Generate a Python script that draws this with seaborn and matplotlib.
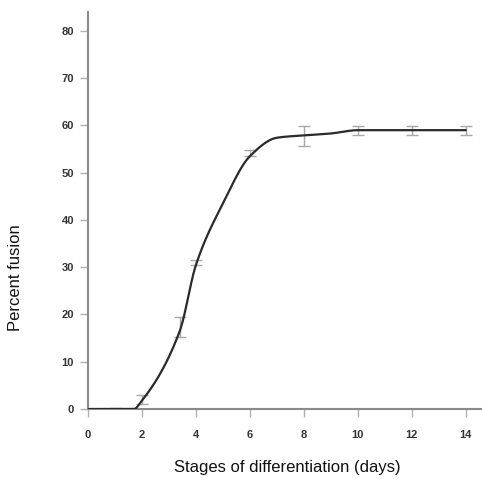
import numpy as np
import pandas as pd
import matplotlib
matplotlib.use("Agg")
import matplotlib.pyplot as plt
import seaborn as sns

# measured points (day, percent fusion, error)
days = [1, 2, 3.4, 4, 6, 8, 10, 12, 14]
fusion = [0, 2, 17.3, 31, 54.2, 57.8, 58.9, 58.9, 58.9]
err = [0.3, 1.0, 2.1, 0.6, 0.6, 2.1, 1.0, 1.0, 1.0]

# knots of the hand-drawn fit curve
curve_x = [0, 1.7, 2, 3.4, 4, 5, 6, 7, 8, 9, 10, 14]
curve_y = [0, 0, 1.8, 16.5, 30.5, 43.5, 53.5, 57.4, 57.9, 58.3, 59, 59]


def pchip(x, y, xs):
    x = np.asarray(x, float)
    y = np.asarray(y, float)
    h = np.diff(x)
    d = np.diff(y) / h
    m = np.zeros_like(y)
    for k in range(1, len(x) - 1):
        if d[k - 1] * d[k] > 0:
            w1 = 2 * h[k] + h[k - 1]
            w2 = h[k] + 2 * h[k - 1]
            m[k] = (w1 + w2) / (w1 / d[k - 1] + w2 / d[k])
    m[0] = d[0]
    m[-1] = d[-1]
    out = np.empty_like(xs)
    for i, xv in enumerate(xs):
        k = min(np.searchsorted(x, xv, side="right") - 1, len(x) - 2)
        t = (xv - x[k]) / h[k]
        h00 = 2 * t**3 - 3 * t**2 + 1
        h10 = t**3 - 2 * t**2 + t
        h01 = -2 * t**3 + 3 * t**2
        h11 = t**3 - t**2
        out[i] = h00 * y[k] + h10 * h[k] * m[k] + h01 * y[k + 1] + h11 * h[k] * m[k + 1]
    return out


xs = np.linspace(0, 14, 400)
fit = pd.DataFrame({"day": xs, "fusion": pchip(curve_x, curve_y, xs)})

sns.set_style("ticks")
plt.rcParams["font.family"] = ["Liberation Sans", "DejaVu Sans"]

fig = plt.figure(figsize=(4.82, 4.79), dpi=100)
ax = fig.add_axes([0.1826, 0.1461, 0.8174, 0.8288])

ax.errorbar(days, fusion, yerr=err, fmt="none", ecolor="#a8a8a8",
            elinewidth=1.0, capsize=4, capthick=1.0, zorder=2)
sns.lineplot(data=fit, x="day", y="fusion", ax=ax, color="#2a2a2a",
             linewidth=1.6, sort=False, estimator=None, zorder=3)

ax.set_xlim(0, 14.6)
ax.set_ylim(0, 84)
ax.set_xticks(range(0, 15, 2))
ax.set_yticks(range(0, 81, 10))
sns.despine(ax=ax)
for s in ["left", "bottom"]:
    ax.spines[s].set_color("#8a8a8a")
    ax.spines[s].set_linewidth(1.5)
ax.tick_params(axis="both", colors="#b0b0b0", labelcolor="#333333",
               labelsize=8, length=6, width=1.0)
ax.tick_params(axis="x", pad=9)
ax.tick_params(axis="y", pad=4)
for lab in ax.get_xticklabels() + ax.get_yticklabels():
    lab.set_fontweight("bold")

ax.set_xlabel("")
ax.set_ylabel("")
fig.text(0.597, 0.023, "Stages of differentiation (days)", ha="center",
         va="center", fontsize=12, color="#111111")
fig.text(0.033, 0.42, "Percent fusion", ha="center", va="center",
         rotation=90, fontsize=12, color="#111111")

fig.savefig("out.png", dpi=100)
